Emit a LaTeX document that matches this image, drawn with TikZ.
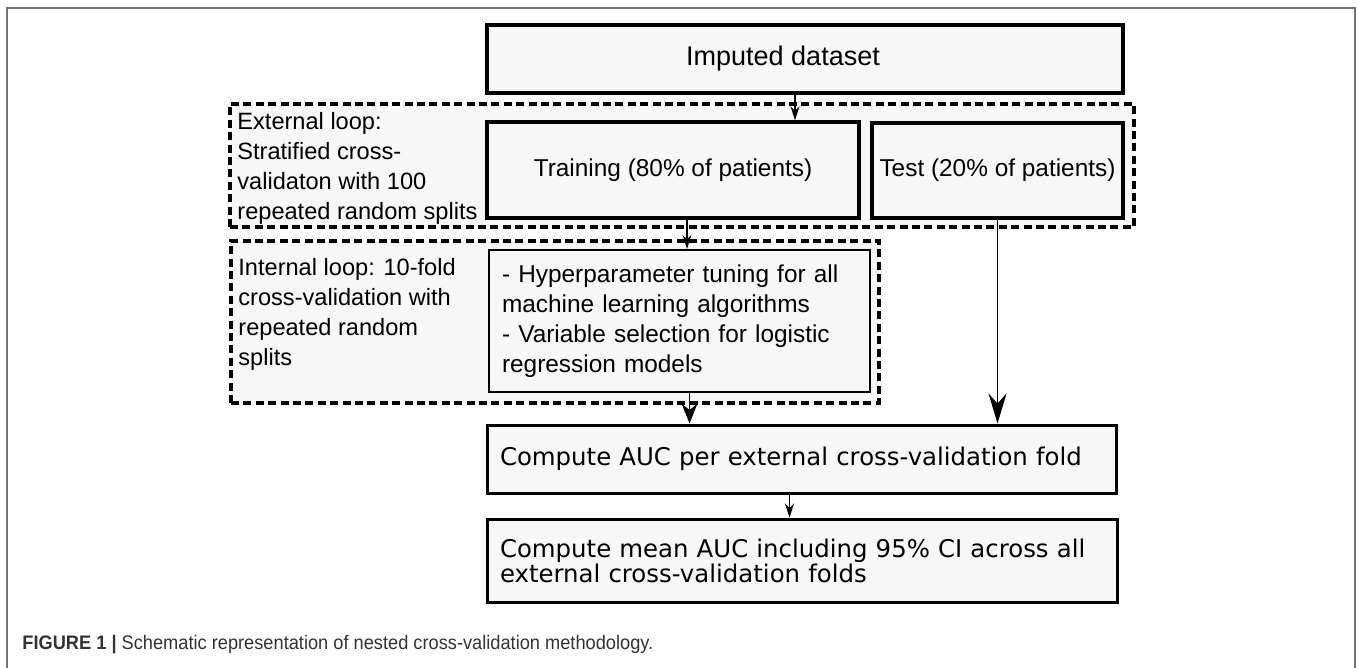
\documentclass[tikz,border=0pt]{standalone}
\usepackage{fontspec}
\setmainfont{Liberation Sans}
\newfontfamily\verdfont{DejaVu Sans}
\newfontfamily\narrowfont[FakeStretch=0.93]{Liberation Sans}
\newcommand*{\labelfont}{\fontsize{12.2}{15}\selectfont}
\newcommand*{\loopfont}{\fontsize{11.8}{15}\selectfont}
\newcommand*{\stepfont}{\verdfont\fontsize{12.2}{12.5}\selectfont}
\newcommand*{\captionfont}{\narrowfont\fontsize{9.8}{11}\selectfont}
\definecolor{boxfill}{gray}{0.97}
\definecolor{framegray}{gray}{0.45}
\definecolor{captext}{gray}{0.2}
\usetikzlibrary{arrows.meta}
\usetikzlibrary{positioning}
\tikzstyle{box}=[draw, black, fill=boxfill, line width=1.7pt, inner sep=0pt]
\tikzstyle{loopbox}=[draw, black, fill=boxfill, line width=1.8pt, dash pattern=on 4pt off 2.2pt, inner sep=0pt]
\tikzstyle{looptext}=[anchor=north west, align=left, inner sep=0pt, font=\loopfont]
\tikzstyle{arr}=[draw, line width=0.6pt, -{Stealth[length=7pt,width=4.5pt]}]
\begin{document}
\begin{tikzpicture}[x=0.5pt, y=-0.5pt]
    \path [use as bounding box] (0,0) rectangle (1358,668);
    \draw [framegray, line width=0.8pt] (7,668) -- (7,8) -- (1355,8) -- (1355,668);
        \node [loopbox, minimum width=452pt, minimum height=61.5pt] (extloop) at (682,165.5) {};
        \node [loopbox, minimum width=324pt, minimum height=81pt] (intloop) at (555,322) {};
        \node [box, minimum width=318pt, minimum height=34pt, font=\fontsize{13.5}{16}\selectfont] (imputed) at (805,59) {\hspace*{-22pt}Imputed dataset};
        \node [box, minimum width=186pt, minimum height=48pt, font=\labelfont] (train) at (673,170) {Training (80\% of patients)};
        \node [box, minimum width=125.5pt, minimum height=47.5pt, line width=2pt, font=\labelfont] (test) at (997.5,170.5) {Test (20\% of patients)};
        \node [box, line width=1.2pt, minimum height=71pt, text width=177.5pt, inner xsep=6.5pt, align=left, font=\labelfont] (hyper) at (679.5,321) {- Hyperparameter tuning for all\\machine learning algorithms\\- Variable selection for logistic\\regression models};
        \node [box, line width=1.5pt, minimum height=34pt, text width=301.5pt, inner xsep=6.5pt, align=left, font=\stepfont] (auc) at (801.5,459) {Compute AUC per external cross-validation fold};
        \node [box, line width=1.5pt, minimum height=41.5pt, text width=302pt, inner xsep=6.5pt, align=left, font=\stepfont] (meanauc) at (802,560.5) {Compute mean AUC including 95\% CI across all\\external cross-validation folds};
        \node [looptext] (extlabel) at (237,112) {External loop:\\Stratified cross-\\validaton with 100\\repeated random splits};
        \node [looptext] (intlabel) at (238,258) {Internal loop: 10-fold\\cross-validation with\\repeated random\\splits};
        \draw [arr] ([xshift=-5pt]imputed.south) -- ([xshift=-5pt]imputed.south |- train.north);
        \draw [arr] ([xshift=7pt]train.south) -- ([xshift=7pt]train.south |- hyper.north);
        \draw [arr, -{Stealth[length=10pt,width=8pt]}] ([xshift=5pt]hyper.south) -- ([xshift=5pt]hyper.south |- auc.north);
        \draw [arr, line width=0.7pt, -{Stealth[length=15pt,width=9pt,inset=5pt]}] (test.south) -- (test.south |- auc.north);
        \draw [arr] ([xshift=-6pt]auc.south) -- ([xshift=-6pt]auc.south |- meanauc.north);
        \node [anchor=west, inner sep=0pt, font=\captionfont, text=captext] (caption) at (22,645) {\textbf{FIGURE 1} \textbf{|} Schematic representation of nested cross-validation methodology.};
    \end{tikzpicture}
\end{document}
